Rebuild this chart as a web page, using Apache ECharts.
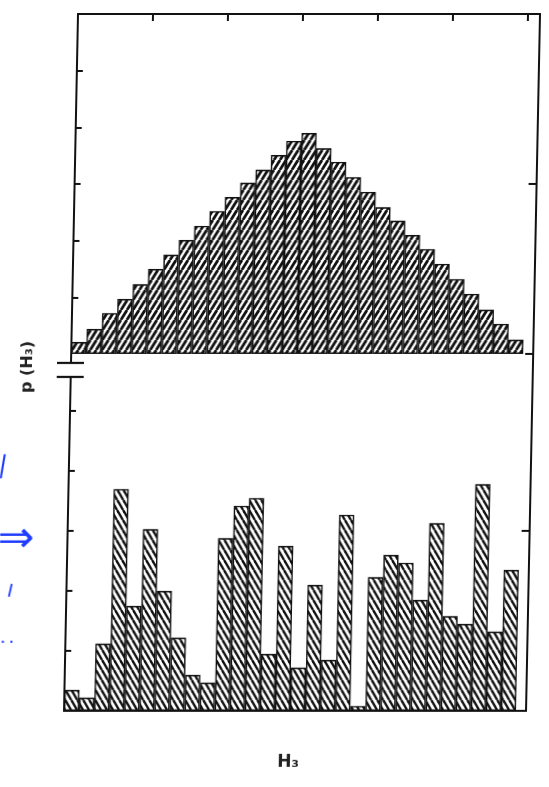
<!DOCTYPE html>
<html>
<head>
<meta charset="utf-8">
<script src="https://cdn.jsdelivr.net/npm/echarts@6/dist/echarts.min.js"></script>
<style>
  html, body { margin: 0; padding: 0; background: #fff; overflow: hidden; }
  /* the scanned figure is slightly sheared: left edge leans right towards the top */
  #chart { width: 549px; height: 787px; transform: skewX(-1.15deg); transform-origin: 0 363px; }
</style>
</head>
<body>
<div id="chart"></div>
<script>
// ---- data ----
const bins = ['1','2','3','4','5','6','7','8','9','10','11','12','13','14','15',
              '16','17','18','19','20','21','22','23','24','25','26','27','28','29','30'];
// upper histogram p(H3) (one axis tick = 10 units)
const upperValues = [2.1, 4.4, 7.2, 9.7, 12.3, 15.0, 17.5, 20.1, 22.6, 25.2,
                     27.7, 30.2, 32.5, 35.1, 37.6, 39.0, 36.3, 33.9, 31.2, 28.6,
                     25.9, 23.5, 21.0, 18.5, 15.9, 13.2, 10.6, 7.8, 5.3, 2.5];
// lower histogram p(H3)
const lowerValues = [3.5, 2.2, 11.2, 37.0, 17.5, 30.3, 20.0, 12.2, 6.0, 4.7,
                     28.8, 34.2, 35.5, 9.5, 27.5, 7.2, 21.0, 8.5, 32.7, 0.8,
                     22.3, 26.0, 24.7, 18.5, 31.3, 15.8, 14.5, 37.8, 13.2, 23.5];
const upperTicks = [10, 20, 30, 40, 50];
const lowerTicks = [10, 20, 30, 40, 50];
const topTicks = [1, 2, 3, 4, 5, 6];
const xName = 'H₃';
const yName = 'p (H₃)';

// ---- hatch patterns ----
function hatch(dir, lw) {
  const w = 6, h = 10;
  const c = document.createElement('canvas');
  c.width = w; c.height = h;
  const g = c.getContext('2d');
  g.fillStyle = '#fff';
  g.fillRect(0, 0, w, h);
  g.strokeStyle = '#111';
  g.lineWidth = lw;
  for (const o of [-w, 0, w]) {
    g.beginPath();
    if (dir > 0) { g.moveTo(o, h); g.lineTo(o + w, 0); }
    else { g.moveTo(o, 0); g.lineTo(o + w, h); }
    g.stroke();
  }
  return c;
}
const upHatch = { image: hatch(1, 2.8), repeat: 'repeat' };
const downHatch = { image: hatch(-1, 2.4), repeat: 'repeat' };

const ink = '#111';
const line = { show: true, onZero: false, lineStyle: { color: ink, width: 2 } };
const noLine = { show: false, onZero: false };
const noLabel = { show: false };
const noSplit = { show: false };

const chart = echarts.init(document.getElementById('chart'));
chart.setOption({
  animation: false,
  backgroundColor: '#fff',
  grid: [
    { left: 71, right: 16, top: 14, bottom: 76 },          // frame
    { left: 71, width: 452, top: 14, height: 340 },         // upper histogram
    { left: 71, width: 452, top: 377, bottom: 76 }          // lower histogram
  ],
  xAxis: [
    { gridIndex: 0, type: 'value', position: 'top', min: 0, max: 6.16, interval: 1,
      axisLine: line, axisLabel: noLabel, splitLine: noSplit,
      axisTick: { show: true, inside: true, length: 7, customValues: topTicks,
                  lineStyle: { color: ink, width: 2 } } },
    { gridIndex: 0, type: 'value', position: 'bottom', min: 0, max: 1,
      axisLine: line, axisLabel: noLabel, splitLine: noSplit, axisTick: { show: false } },
    { gridIndex: 1, type: 'category', data: bins, show: false, axisLine: noLine },
    { gridIndex: 2, type: 'category', data: bins, show: false, axisLine: noLine }
  ],
  yAxis: [
    { gridIndex: 0, type: 'value', position: 'right', min: 0, max: 1,
      axisLine: line, axisLabel: noLabel, splitLine: noSplit, axisTick: { show: false } },
    { gridIndex: 1, type: 'value', position: 'left', min: 0, max: 60, interval: 10,
      axisLine: line, axisLabel: noLabel, splitLine: noSplit,
      axisTick: { show: true, inside: true, length: 6, customValues: upperTicks,
                  lineStyle: { color: ink, width: 2 } } },
    { gridIndex: 1, type: 'value', position: 'right', offset: 10, min: 0, max: 60, interval: 10,
      axisLine: noLine, axisLabel: noLabel, splitLine: noSplit,
      axisTick: { show: true, inside: true, length: 8, customValues: [0, 30],
                  lineStyle: { color: ink, width: 2 } } },
    { gridIndex: 2, type: 'value', position: 'left', min: 0, max: 55.7, interval: 10,
      axisLine: line, axisLabel: noLabel, splitLine: noSplit,
      axisTick: { show: true, inside: true, length: 6, customValues: lowerTicks,
                  lineStyle: { color: ink, width: 2 } } },
    { gridIndex: 2, type: 'value', position: 'right', offset: 10, min: 0, max: 55.7, interval: 10,
      axisLine: noLine, axisLabel: noLabel, splitLine: noSplit,
      axisTick: { show: true, inside: true, length: 8, customValues: [30],
                  lineStyle: { color: ink, width: 2 } } }
  ],
  series: [
    { type: 'bar', xAxisIndex: 2, yAxisIndex: 1, data: upperValues,
      barCategoryGap: '0%', silent: true,
      itemStyle: { color: upHatch, borderColor: ink, borderWidth: 1.4 } },
    { type: 'bar', xAxisIndex: 3, yAxisIndex: 3, data: lowerValues,
      barCategoryGap: '0%', silent: true,
      itemStyle: { color: downHatch, borderColor: ink, borderWidth: 1.4 } }
  ],
  graphic: [
    // axis break on the left axis
    { type: 'line', shape: { x1: 71, y1: 353, x2: 71, y2: 363 }, style: { stroke: ink, lineWidth: 2 } },
    { type: 'line', shape: { x1: 57, y1: 363, x2: 84, y2: 363 }, style: { stroke: ink, lineWidth: 2.2 } },
    { type: 'line', shape: { x1: 57, y1: 377, x2: 84, y2: 377 }, style: { stroke: ink, lineWidth: 2.2 } },
    // axis titles
    { type: 'text', x: 28, y: 367, rotation: Math.PI / 2,
      style: { text: yName, fontSize: 16, fontWeight: 'bold', fontFamily: 'DejaVu Sans',
               fill: '#222', align: 'center', verticalAlign: 'middle' } },
    { type: 'text', x: 296, y: 763,
      style: { text: xName, fontSize: 17, fontWeight: 'bold', fontFamily: 'DejaVu Sans',
               fill: '#222', align: 'center', verticalAlign: 'middle' } },
    // blue handwritten marks
    { type: 'text', x: 5, y: 466, rotation: -0.15,
      style: { text: '|', fontSize: 26, fill: '#1f3cff', align: 'center', verticalAlign: 'middle' } },
    { type: 'text', x: 19, y: 540,
      style: { text: '⇒', fontSize: 44, fill: '#1f3cff', align: 'center', verticalAlign: 'middle' } },
    { type: 'text', x: 15, y: 590, rotation: -0.2,
      style: { text: '|', fontSize: 14, fontWeight: 'bold', fill: '#1f3cff', align: 'center', verticalAlign: 'middle' } },
    { type: 'text', x: 13, y: 643,
      style: { text: '· ·', fontSize: 14, fontWeight: 'bold', fill: '#1f3cff', align: 'center', verticalAlign: 'middle' } }
  ]
});
</script>
</body>
</html>
